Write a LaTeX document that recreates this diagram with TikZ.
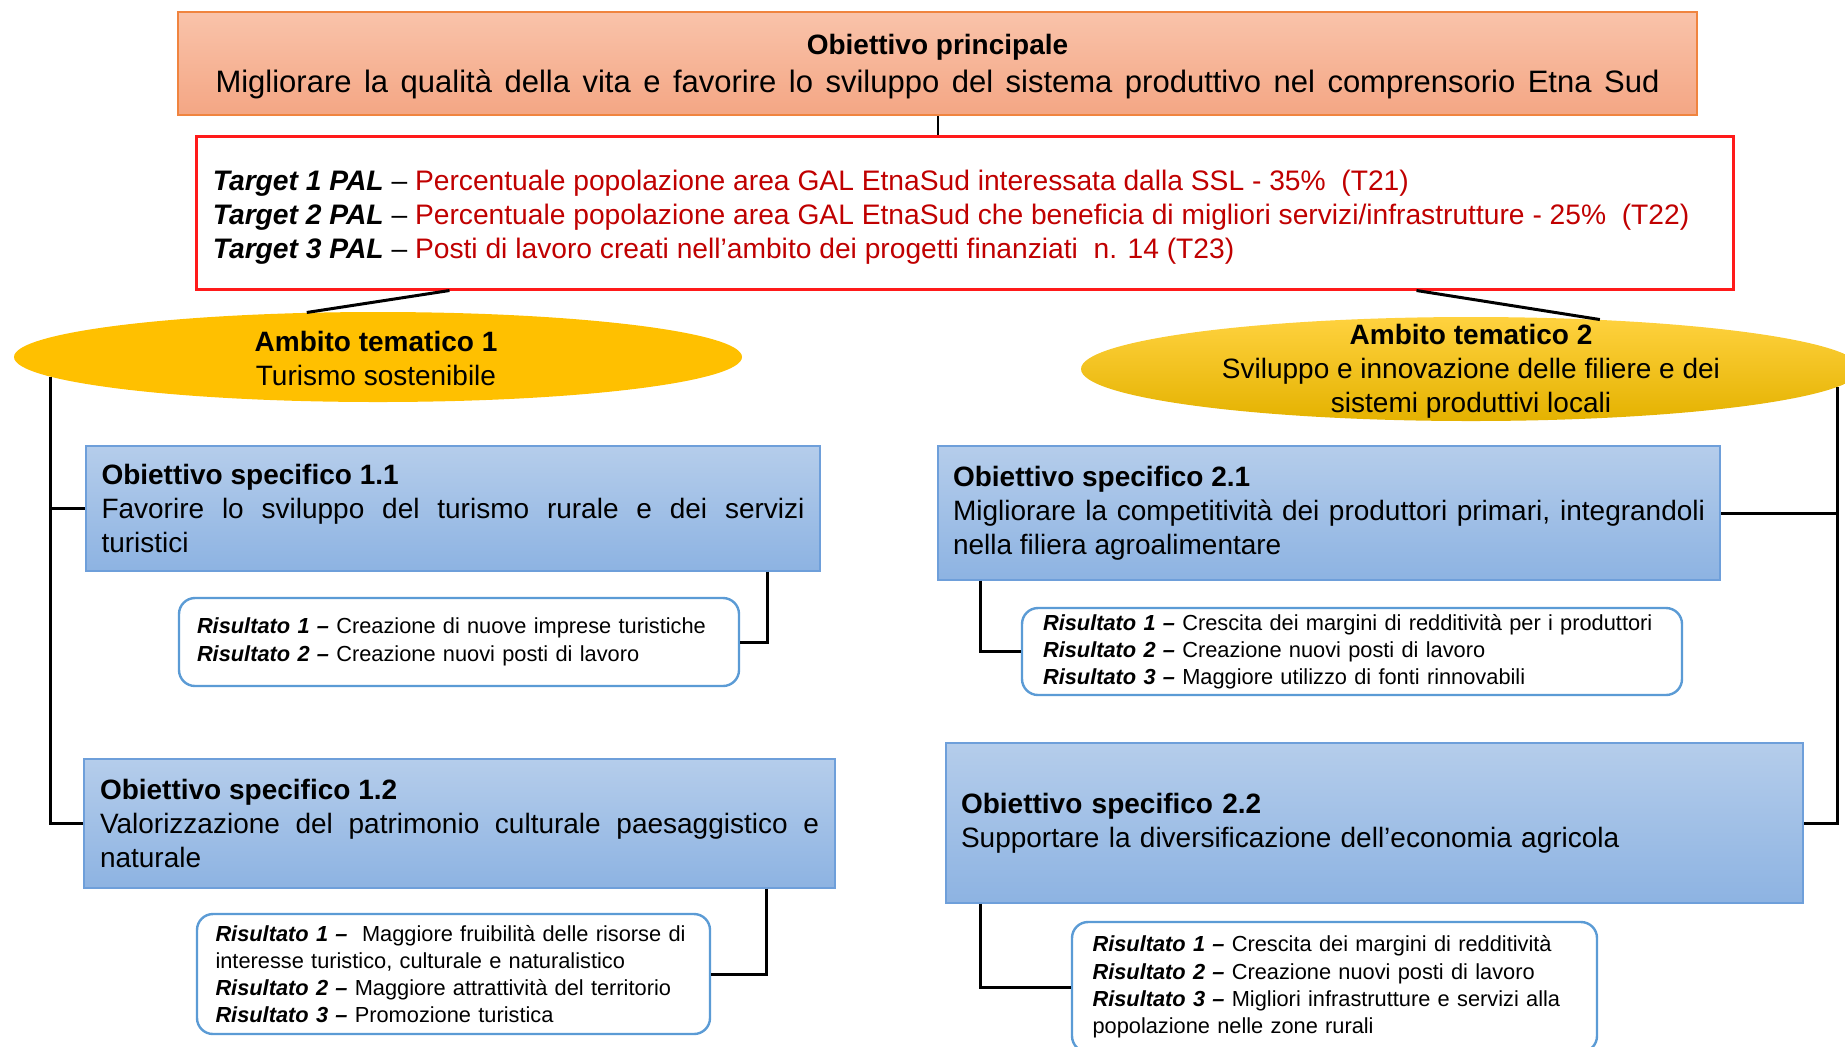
\documentclass[tikz,border=0pt]{standalone}
\usepackage{fontspec}
\setmainfont{Liberation Sans}
\usetikzlibrary{shapes.geometric,calc}
\definecolor{mainfillT}{HTML}{F9C3AA}
\definecolor{mainfillB}{HTML}{F4A684}
\definecolor{mainborder}{HTML}{F0843F}
\definecolor{tgtred}{HTML}{FF1A1A}
\definecolor{tgttext}{HTML}{C00000}
\definecolor{blueT}{HTML}{B5CDEB}
\definecolor{blueB}{HTML}{8DB3E2}
\definecolor{blueborder}{HTML}{6E9FDA}
\definecolor{resborder}{HTML}{5B9BD5}
\definecolor{ambA}{HTML}{FFC000}
\definecolor{ambBT}{HTML}{FFD23F}
\definecolor{ambBB}{HTML}{E4B200}
\newcommand\risl[1]{\textbf{\textit{Risultato #1 –}}}
\newcommand\tgtl[1]{\textbf{\textit{Target #1 PAL}} –}
\begin{document}
\begin{tikzpicture}[x=0.5pt,y=-0.5pt,
  mainbox/.style={draw=mainborder,line width=1pt,top color=mainfillT,bottom color=mainfillB,
    minimum width=759.5pt,minimum height=51.5pt,inner sep=0pt},
  maintxt/.style={inner sep=0pt,align=center,font=\fontsize{14}{19}\selectfont},
  tgtbox/.style={draw=tgtred,line width=1.5pt,fill=white,minimum width=768.5pt,
    minimum height=76.5pt,inner sep=0pt},
  tgttxt/.style={anchor=west,inner sep=0pt,align=left,font=\fontsize{14.1}{17}\selectfont},
  ambone/.style={ellipse,fill=ambA,draw=none,minimum width=364pt,minimum height=45pt,inner sep=0pt},
  ambtwo/.style={ellipse,top color=ambBT,bottom color=ambBB,draw=none,minimum width=390pt,minimum height=52pt,inner sep=0pt},
  ambtext/.style={align=center,inner sep=0pt,font=\fontsize{14}{17}\selectfont},
  bluebox/.style={draw=blueborder,line width=0.6pt,top color=blueT,bottom color=blueB,
    inner sep=0pt,align=justify,font=\fontsize{14}{17}\selectfont},
  resbox/.style={draw=resborder,line width=1.2pt,fill=white,rounded corners=8pt,
    inner sep=0pt,align=left,font=\fontsize{10.9}{13.6}\selectfont},
  conn/.style={draw=black,line width=1.5pt},
]
\useasboundingbox (0,0) rectangle (1845,1046);
\clip (0,0) rectangle (1845,1046);

% top boxes
\node[mainbox] (main) at (937.5,63.5) {};
\node[maintxt] (maint) at ($(main.center)+(0,3)$)
  {\textbf{Obiettivo principale}\\{\fontsize{15.5}{19}\selectfont\makebox[722pt][s]{Migliorare la qualità della vita e favorire lo sviluppo del sistema produttivo nel comprensorio Etna Sud}}};
\node[tgtbox] (tgt) at (964.5,212.5) {};
\node[tgttxt] (tgtt) at ($(tgt.west)+(18,5)$)
  {\tgtl{1} {\color{tgttext}Percentuale popolazione area GAL EtnaSud interessata dalla SSL - 35\%\ \ (T21)}\\
   \tgtl{2} {\color{tgttext}Percentuale popolazione area GAL EtnaSud che beneficia di migliori servizi/infrastrutture - 25\%\ \ (T22)}\\
   \tgtl{3} {\color{tgttext}Posti di lavoro creati nell’ambito dei progetti finanziati\ \ n. 14 (T23)}};

% ambiti
\node[ambone] (e1) at (378,357) {};
\node[ambtext] (e1t) at (376,358) {\textbf{Ambito tematico 1}\\Turismo sostenibile};
\node[ambtwo] (e2) at (1471,369) {};
\node[ambtext] (e2t) at (1471,371) {\textbf{Ambito tematico 2}\\Sviluppo e innovazione delle filiere e dei\\sistemi produttivi locali};

% obiettivi specifici
\node[bluebox,minimum width=367pt,minimum height=62.5pt,text width=351.5pt] (b11) at (453,508.5)
  {\textbf{Obiettivo specifico 1.1}\par Favorire lo sviluppo del turismo rurale e dei servizi\linebreak turistici};
\node[bluebox,minimum width=375.5pt,minimum height=64.5pt,text width=359.5pt] (b12) at (459.5,823.5)
  {\textbf{Obiettivo specifico 1.2}\par Valorizzazione del patrimonio culturale paesaggistico e\linebreak naturale};
\node[bluebox,minimum width=391pt,minimum height=67pt,text width=376pt] (b21) at (1329,513)
  {\textbf{Obiettivo specifico 2.1}\par Migliorare la competitività dei produttori primari, integrandoli\linebreak nella filiera agroalimentare};
\node[bluebox,minimum width=428.5pt,minimum height=80pt,text width=413.5pt,align=left] (b22) at (1374.5,823)
  {\textbf{Obiettivo specifico 2.2}\\Supportare la diversificazione dell’economia agricola};

% risultati
\node[resbox,minimum width=280pt,minimum height=44pt,text width=262pt,font=\fontsize{10.9}{14}\selectfont] (r11) at (459,642)
  {\risl{1} Creazione di nuove imprese turistiche\\\risl{2} Creazione nuovi posti di lavoro};
\node[resbox,minimum width=256.5pt,minimum height=60pt,text width=238pt] (r12) at (453.5,974)
  {\risl{1}\ \ Maggiore fruibilità delle risorse di\\interesse turistico, culturale e naturalistico\\\risl{2} Maggiore attrattività del territorio\\\risl{3} Promozione turistica};
\node[resbox,minimum width=330pt,minimum height=43.5pt,text width=309pt] (r21) at (1352,651.5)
  {\risl{1} Crescita dei margini di redditività per i produttori\\\risl{2} Creazione nuovi posti di lavoro\\\risl{3} Maggiore utilizzo di fonti rinnovabili};
\node[resbox,minimum width=262.5pt,minimum height=65pt,text width=242pt] (r22) at (1334.5,987)
  {\risl{1} Crescita dei margini di redditività\\\risl{2} Creazione nuovi posti di lavoro\\\risl{3} Migliori infrastrutture e servizi alla\\popolazione nelle zone rurali};

% connectors
\coordinate (lv) at ($(e1.center)+(-328,19.5)$);
\coordinate (rv) at ($(e2.center)+(366,18)$);
\draw[conn,line width=1pt] (main.south) -- (main.south |- tgt.north);
\draw[conn] ($(tgt.south west)+(255,0)$) -- (e1.148);
\draw[conn] ($(tgt.south west)+(1222,0)$) -- (e2.21);
\draw[conn] (lv) |- (b12.west);
\draw[conn] (lv |- b11.west) -- (b11.west);
\draw[conn] (rv) |- (b22.east);
\draw[conn] (rv |- b21.east) -- (b21.east);
\draw[conn] ($(b11.south east)+(-53,0)$) |- (r11.east);
\draw[conn] ($(b12.south east)+(-69,0)$) |- (r12.east);
\draw[conn] ($(b21.south west)+(43,0)$) |- (r21.west);
\draw[conn] ($(b22.south west)+(35,0)$) |- (r22.west);
\end{tikzpicture}
\end{document}
